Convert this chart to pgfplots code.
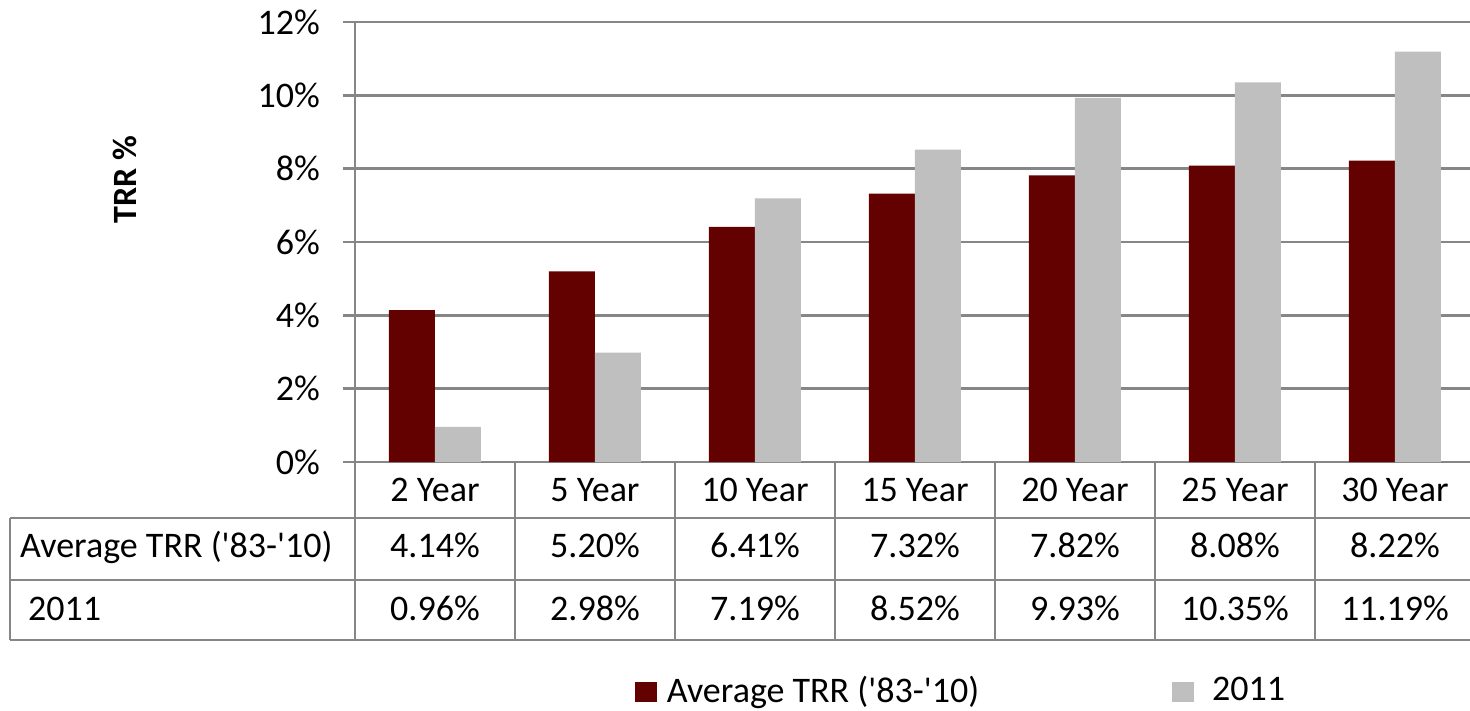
\documentclass[border=0pt]{standalone}
\usepackage{pgfplots}
\pgfplotsset{compat=1.18}
\usepackage{fontspec}
\setmainfont{Carlito}
\definecolor{barred}{RGB}{99,0,0}
\definecolor{bargray}{RGB}{191,191,191}
\definecolor{linegray}{RGB}{134,134,134}
\newcommand{\q}{\textquotesingle}
\begin{document}
\fontsize{36pt}{43pt}\selectfont
\begin{tikzpicture}
\useasboundingbox (0,0) rectangle (1470pt,710pt);
\begin{axis}[
 at={(355pt,248pt)}, anchor=south west,
 scale only axis, width=1120pt, height=440pt,
 xmin=-0.5, xmax=6.5, ymin=0, ymax=12,
 axis x line=bottom, axis y line=left,
 axis line style={-, draw=linegray, line width=2.5pt},
 ybar=0pt, bar width=46pt,
 xtick={0,...,6},
 xticklabels={2 Year,5 Year,10 Year,15 Year,20 Year,25 Year,30 Year},
 xtick style={draw=none},
 ytick={0,2,...,12}, yticklabels={0\%,2\%,4\%,6\%,8\%,10\%,12\%},
 tick align=outside, major tick length=12pt,
 ytick style={draw=linegray,line width=2.5pt},
 ymajorgrids, grid style={draw=linegray, line width=2.5pt},
 tick label style={font=\fontsize{36pt}{43pt}\selectfont},
 xticklabel style={anchor=base, yshift=-27pt},
 yticklabel style={inner sep=0pt, xshift=-23pt},
 ylabel={TRR \%},
 ylabel style={font=\bfseries\fontsize{34pt}{40pt}\selectfont, at={(axis description cs:-0.2054,0.641)}, anchor=center},
 legend columns=2,
 legend style={at={(axis description cs:0.5402,-0.5227)}, anchor=center, draw=none, fill=none,
   font=\fontsize{36pt}{43pt}\selectfont, nodes={inner sep=0pt},
   /tikz/every odd column/.append style={column sep=10pt},
   /tikz/every even column/.append style={column sep=193pt}},
 legend image code/.code={\fill[#1] (0pt,-10pt) rectangle (22pt,10pt);},
 clip=false,
]
\addplot[fill=barred, draw=none] coordinates {(0,4.14) (1,5.20) (2,6.41) (3,7.32) (4,7.82) (5,8.08) (6,8.22)};
\addplot[fill=bargray, draw=none] coordinates {(0,0.96) (1,2.98) (2,7.19) (3,8.52) (4,9.93) (5,10.35) (6,11.19)};
\legend{Average TRR (\q83-\q10),\hspace*{8pt}2011}
\end{axis}
\begin{scope}[draw=linegray, line width=2.5pt]
\draw (10pt,192pt) -- (1480pt,192pt);
\draw (10pt,130pt) -- (1480pt,130pt);
\draw (10pt,70pt) -- (1480pt,70pt);
\draw (10pt,192pt) -- (10pt,70pt);
\foreach \k in {0,...,7} \draw ({(355+160*\k)*1pt},248pt) -- ({(355+160*\k)*1pt},70pt);
\end{scope}
\node[anchor=base west, inner sep=0pt] at (20pt,152pt) {Average TRR (\q83-\q10)};
\node[anchor=base west, inner sep=0pt] at (28pt,90pt) {2011};
\foreach \i/\a/\b in {0/4.14/0.96,1/5.20/2.98,2/6.41/7.19,3/7.32/8.52,4/7.82/9.93,5/8.08/10.35,6/8.22/11.19} {
  \node[anchor=base, inner sep=0pt] at ({(435+160*\i)*1pt},152pt) {\a\%};
  \node[anchor=base, inner sep=0pt] at ({(435+160*\i)*1pt},90pt) {\b\%};
}
\end{tikzpicture}
\end{document}
